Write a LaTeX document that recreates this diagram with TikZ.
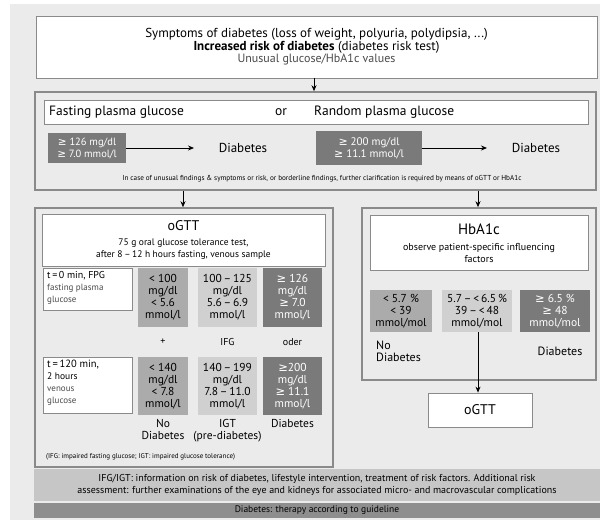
\documentclass[tikz,border=0pt]{standalone}
\usepackage{fontspec}
\setmainfont{PT Sans}
\newfontfamily\symfont{DejaVu Sans}
\newcommand{\GE}{{\symfont\char"2265}}
\newcommand{\LT}{<}
\usetikzlibrary{arrows.meta}
\definecolor{bgc}{HTML}{EBEBEB}
\definecolor{edge}{HTML}{8A8A8A}
\definecolor{dkc}{HTML}{7A7A7A}
\definecolor{mdc}{HTML}{ABABAB}
\definecolor{ltc}{HTML}{D0D0D0}
\definecolor{barl}{HTML}{C6C6C6}
\definecolor{bard}{HTML}{8E8E8E}
\definecolor{soft}{HTML}{4A4A4A}
\newcommand{\fs}[1]{\fontsize{#1}{\dimexpr #1pt*23/20\relax}\selectfont}
\newcommand{\boxat}[7]{\node[#6, minimum width={#4-#2}, minimum height={#5-#3}] (#1) at ({(#2+#4)/2},{(#3+#5)/2}) {#7};}
\tikzset{
  base/.style={rectangle, inner sep=0pt, align=center},
  wbox/.style={base, draw=edge, fill=white, line width=0.8pt},
  outer/.style={base, draw=edge, line width=1.6pt},
  dk/.style={base, fill=dkc, text=white},
  md/.style={base, fill=mdc},
  lt/.style={base, fill=ltc},
  lbl/.style={inner sep=0pt, align=center},
  arr/.style={-{Stealth[length=6pt,width=5pt]}, line width=0.8pt},
}
\begin{document}
\begin{tikzpicture}[x=1pt,y=-1pt]
\useasboundingbox (0,0) rectangle (600,520);
\fill[bgc] (10,4) rectangle (600,520);

% top box
\boxat{top}{36}{16}{597}{78}{wbox}{\fs{13}Symptoms of diabetes (loss of weight, polyuria, polydipsia, ...)\\
\fs{13}\textbf{Increased risk of diabetes} (diabetes risk test)\\
\fs{12}\color{soft}Unusual glucose/HbA1c values}

% second box
\boxat{pg}{35}{92}{596}{190}{outer}{}
\boxat{pgrow}{44}{100}{588}{124}{wbox}{}
\node[lbl, anchor=west] (fpg) at (49,112) {\fs{13.5}Fasting plasma glucose};
\node[lbl] (or) at (281,112) {\fs{13.5}or};
\node[lbl, anchor=west] (rpg) at (314,112) {\fs{13.5}Random plasma glucose};
\boxat{d1}{48}{133}{126}{163}{dk}{\fs{10.5}\GE{} 126 mg/dl\\\fs{10.5}\GE{} 7.0 mmol/l};
\node[lbl] (diab1) at (243,148) {\fs{13}Diabetes};
\draw[arr] (d1.east) -- (diab1.west -| 194,0);
\boxat{d2}{316}{131}{422}{165}{dk}{\fs{11}\GE{} 200 mg/dl\\\fs{11}\GE{} 11.1 mmol/l};
\node[lbl] (diab2) at (536,148) {\fs{13}Diabetes};
\draw[arr] (d2.east) -- (diab2.west -| 487,0);
\node[lbl] (note1) at (322,179) {\fs{7.2}In case of unusual findings \& symptoms or risk, or borderline findings, further clarification is required by means of oGTT or HbA1c};
\draw[arr] (top.south -| 314,0) -- (pg.north -| 314,0);

% oGTT box
\boxat{og}{35}{208}{333}{467}{outer}{}
\boxat{oghead}{42}{214}{325}{266}{wbox}{}
\node[lbl] (ogtitle) at (183.5,226) {\fs{14}oGTT};
\node[lbl] (ogsub) at (183.5,249) {\fs{9.5}75 g oral glucose tolerance test,\\\fs{9.5}after 8\,–\,12 h hours fasting, venous sample};
\draw[arr] (pg.south -| 183,0) -- (og.north -| 183,0);

\boxat{r1l}{43}{268}{132}{310}{wbox}{}
\node[lbl, anchor=north west, align=left] (r1t) at (47,271) {\fs{10}t\,=\,0 min, FPG\\\fs{9}\color{soft}fasting plasma\\\fs{9}\color{soft}glucose};
\boxat{r1a}{138}{268}{188}{327}{md}{\fs{11.5}\LT{} 100\\\fs{11.5}mg/dl\\\fs{11.5}\LT{} 5.6\\\fs{11.5}mmol/l};
\boxat{r1b}{198}{268}{257}{327}{lt}{\fs{11.5}100\,–\,125\\\fs{11.5}mg/dl\\\fs{11.5}5.6\,–\,6.9\\\fs{11.5}mmol/l};
\boxat{r1c}{263}{268}{322}{327}{dk}{\fs{11.5}\GE{} 126\\\fs{11.5}mg/dl\\\fs{11.5}\GE{} 7.0\\\fs{11.5}mmol/l};
\node[lbl] (l1a) at (163,342) {\fs{10}+};
\node[lbl] (l1b) at (227.5,342) {\fs{10}IFG};
\node[lbl] (l1c) at (292.5,342) {\fs{10}oder};

\boxat{r2l}{43}{357}{132}{413}{wbox}{}
\node[lbl, anchor=north west, align=left] (r2t) at (47,360) {\fs{10.5}t\,=\,120 min,\\\fs{9.5}2 hours\\\fs{9}\color{soft}venous\\\fs{9}\color{soft}glucose};
\boxat{r2a}{138}{357}{188}{415}{md}{\fs{11.5}\LT{} 140\\\fs{11.5}mg/dl\\\fs{11.5}\LT{} 7.8\\\fs{11.5}mmol/l};
\boxat{r2b}{198}{357}{257}{415}{lt}{\fs{11.5}140\,–\,199\\\fs{11.5}mg/dl\\\fs{11.5}7.8\,–\,11.0\\\fs{11.5}mmol/l};
\boxat{r2c}{263}{357}{322}{415}{dk}{\fs{11.5}\GE{}200\\\fs{11.5}mg/dl\\\fs{11.5}\GE{} 11.1\\\fs{11.5}mmol/l};
\node[lbl, anchor=north] (l2a) at (163,419) {\fs{11.5}No\\\fs{11.5}Diabetes};
\node[lbl, anchor=north] (l2b) at (227.5,419) {\fs{11.5}IGT\\\fs{11.5}(pre-diabetes)};
\node[lbl, anchor=north] (l2c) at (292.5,419) {\fs{11.5}Diabetes};
\node[lbl, anchor=west] (fn) at (46,457) {\fs{7}(IFG: impaired fasting glucose; IGT: impaired glucose tolerance)};

% HbA1c box
\boxat{hb}{362}{208}{596}{380}{outer}{}
\boxat{hbhead}{370}{215}{588}{270}{wbox}{}
\node[lbl] (hbtitle) at (479,229) {\fs{15}HbA1c};
\node[lbl] (hbsub) at (479,253) {\fs{10}observe patient-specific influencing\\\fs{10}factors};
\draw[arr] (pg.south -| 478,0) -- (hb.north -| 478,0);
\boxat{ha}{370}{290}{432}{332}{md}{\fs{11.5}\LT{} 5.7 \%\\\fs{11.5}\LT{} 39\\\fs{11.5}mmol/mol};
\boxat{hbb}{442}{290}{512}{332}{lt}{\fs{11.5}5.7\,–\,\LT{}\,6.5\,\%\\\fs{11.5}39\,–\,\LT{}\,48\\\fs{11.5}mmol/mol};
\boxat{hc}{520}{290}{590}{332}{dk}{\fs{11.5}\GE{} 6.5 \%\\\fs{11.5}\GE{} 48\\\fs{11.5}mmol/mol};
\node[lbl, anchor=north west, align=left] (hnd) at (376,341) {\fs{12}No\\\fs{12}Diabetes};
\node[lbl] (hd) at (560,351) {\fs{12}Diabetes};
\boxat{og2}{428}{393}{532}{427}{wbox}{\fs{14}oGTT};
\draw[arr] (hbb.south -| 478,0) -- (og2.north -| 478,0);

% bottom bars
\boxat{barA}{34}{469}{600}{501}{base, fill=barl}{\fs{10}IFG/IGT: information on risk of diabetes, lifestyle intervention, treatment of risk factors. Additional risk\\\fs{10}assessment: further examinations of the eye and kidneys for associated micro- and macrovascular complications};
\boxat{barB}{34}{503}{600}{518}{base, fill=bard}{\fs{9.5}Diabetes: therapy according to guideline};
\end{tikzpicture}
\end{document}
